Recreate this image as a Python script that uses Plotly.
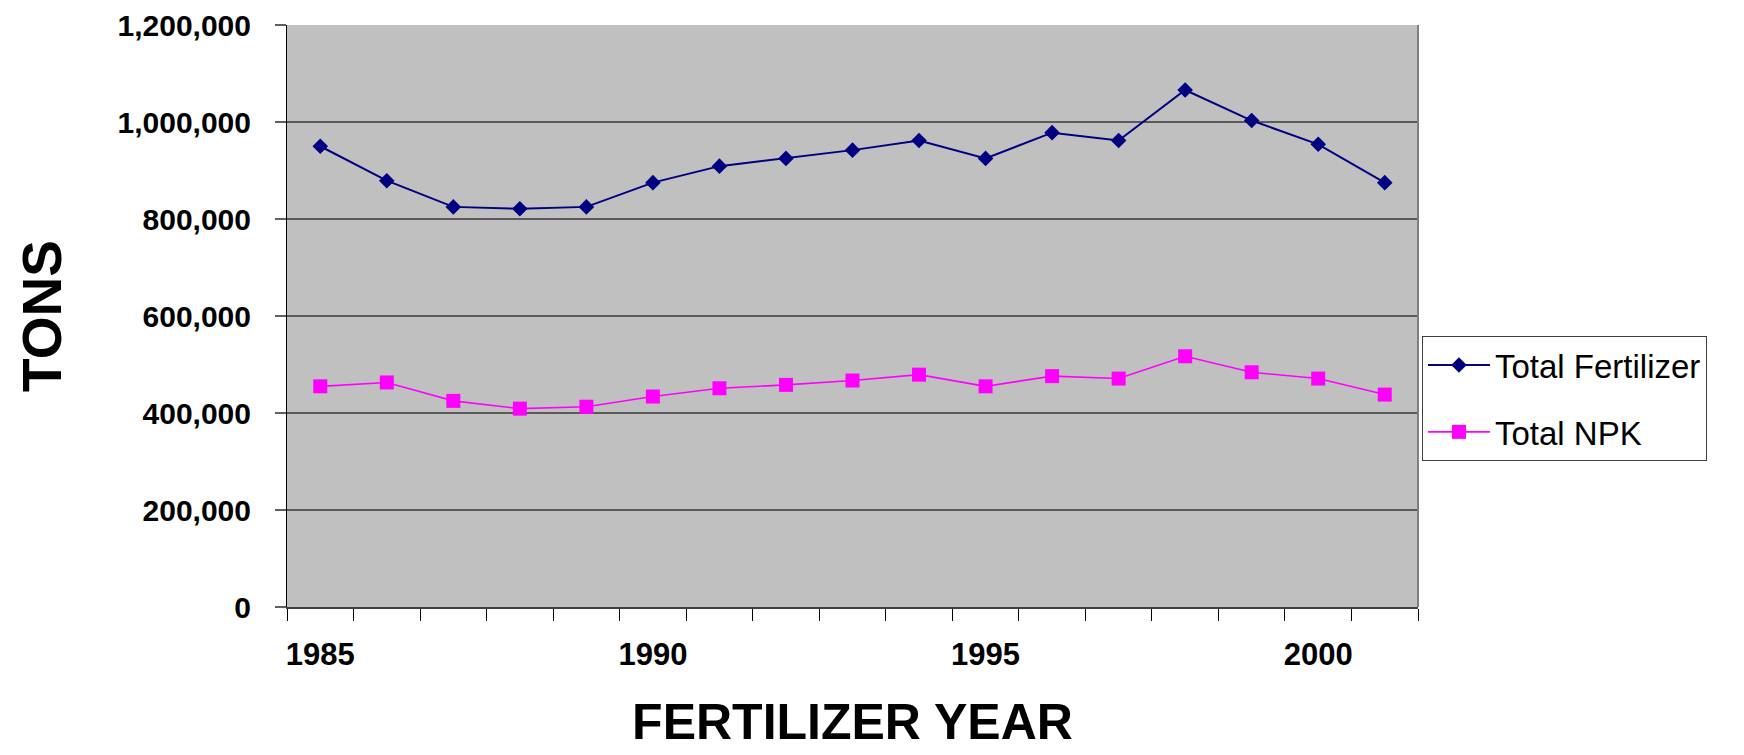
import plotly.graph_objects as go

years = [1985, 1986, 1987, 1988, 1989, 1990, 1991, 1992, 1993,
         1994, 1995, 1996, 1997, 1998, 1999, 2000, 2001]
total_fertilizer = [950000, 879000, 825000, 821000, 825000, 875000, 909000, 925000, 942000,
                    962000, 925000, 978000, 962000, 1066000, 1003000, 954000, 875000]
total_npk = [455000, 463000, 425000, 409000, 413000, 434000, 451000, 458000, 467000,
             479000, 455000, 476000, 471000, 517000, 484000, 471000, 438000]
x_tick_labels = [1985, 1990, 1995, 2000]
y_tick_values = [0, 200000, 400000, 600000, 800000, 1000000, 1200000]

FONT = "Liberation Sans, Arial, sans-serif"

fig = go.Figure()
fig.add_trace(go.Scatter(
    x=years, y=total_fertilizer, name="Total Fertilizer", mode="lines+markers",
    line=dict(color="#000080", width=2),
    marker=dict(symbol="diamond", size=12, color="#000080"),
    legendgroup="a",
))
fig.add_trace(go.Scatter(
    x=years, y=total_npk, name="Total NPK", mode="lines+markers",
    line=dict(color="#FF00FF", width=1.6),
    marker=dict(symbol="square", size=14, color="#FF00FF"),
    legendgroup="b",
))

boundaries = [y - 0.5 for y in years] + [years[-1] + 0.5]

fig.update_layout(
    width=1744, height=755,
    margin=dict(l=279, r=334, t=17, b=156, autoexpand=False),
    paper_bgcolor="white",
    plot_bgcolor="#C0C0C0",
    font=dict(family=FONT, color="black"),
    showlegend=True,
    legend=dict(
        x=1.0035, y=0.4656, xanchor="left", yanchor="top",
        bgcolor="white", bordercolor="#404040", borderwidth=1,
        font=dict(family=FONT, size=33, color="black"),
        traceorder="grouped", tracegroupgap=21,
        itemwidth=62,
        entrywidth=287, entrywidthmode="pixels",
    ),
    xaxis=dict(
        range=[years[0] - 0.5, years[-1] + 0.5],
        tickmode="array", tickvals=x_tick_labels,
        ticktext=[str(v) for v in x_tick_labels],
        ticks="", ticklabelstandoff=19,
        tickfont=dict(family=FONT, size=31, color="black", weight="bold"),
        showgrid=False, zeroline=False,
        showline=True, linecolor="#404040", linewidth=2,
        minor=dict(tickmode="array", tickvals=boundaries, ticks="outside",
                   ticklen=12, tickcolor="black", tickwidth=1, showgrid=False),
        title=dict(text="FERTILIZER YEAR", standoff=33,
                   font=dict(family=FONT, size=50, color="black", weight="bold")),
        automargin=False,
        fixedrange=True,
    ),
    yaxis=dict(
        range=[0, 1200000],
        tickmode="array", tickvals=y_tick_values,
        tickformat=",d",
        ticks="outside", ticklen=11, tickcolor="#606060", tickwidth=1.5,
        ticklabelstandoff=18, ticklabeloverflow="allow",
        tickfont=dict(family=FONT, size=30, color="black", weight="bold"),
        showgrid=True, gridcolor="#5a5a5a", gridwidth=1.5,
        zeroline=False,
        showline=True, linecolor="black", linewidth=1,
        title=dict(text="TONS", standoff=38,
                   font=dict(family=FONT, size=55, color="black", weight="bold")),
        automargin=False,
        fixedrange=True,
    ),
    shapes=[dict(type="line", xref="paper", yref="paper", x0=1, x1=1, y0=0, y1=1,
                 line=dict(color="#808080", width=2))],
)

fig.write_html("out.html")
